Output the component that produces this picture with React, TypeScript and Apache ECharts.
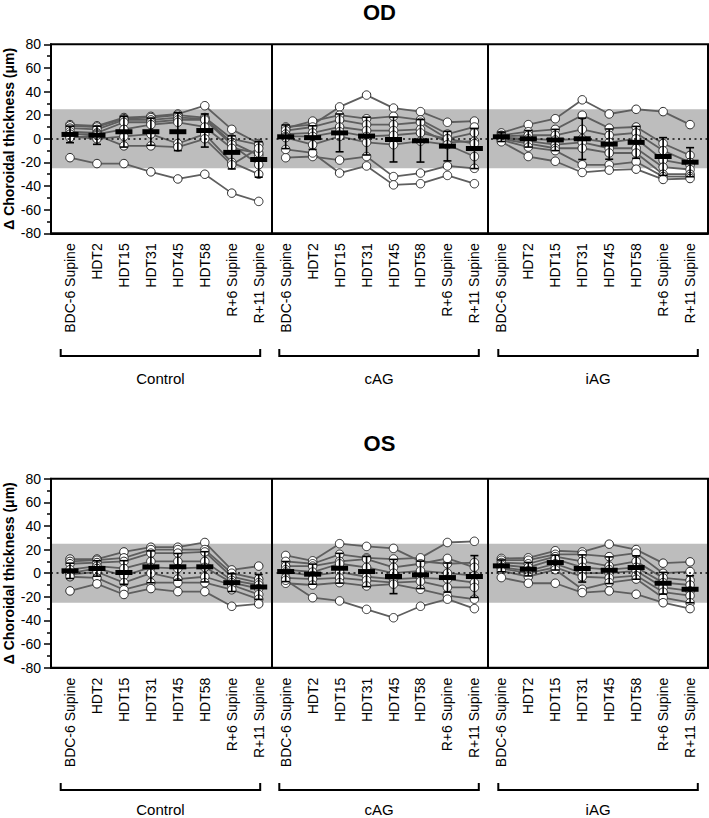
import React, { useEffect, useRef } from "react";
import * as echarts from "echarts";

// ---------- DATA ----------
const timePoints = ["BDC-6 Supine", "HDT2", "HDT15", "HDT31", "HDT45", "HDT58", "R+6 Supine", "R+11 Supine"];
const groupNames = ["Control", "cAG", "iAG"];
const panelTitles = ["OD", "OS"];
const yMin = -80;
const yMax = 80;
const yStep = 20;
const bandLimit = 25;
const yAxisTitle = "Δ Choroidal thickness (μm)";

// OD individual subjects (rows = subjects, columns = time points)
const odControl = [
  [-16, -21, -21, -28, -34, -30, -46, -53],
  [12, 11, 18, 19, 21, 28, 8, -4],
  [11, 10, 17, 18, 20, 18, 0, -5],
  [9, 8, 16, 16, 18, 17, -3, -14],
  [6, 5, 14, 14, 16, 16, -5, -22],
  [4, 4, 8, 12, 14, 10, -8, -12],
  [2, 0, 2, 4, -4, 4, -20, -30],
  [1, 3, -6, -6, -7, 0, -22, -8],
];
const odCAG = [
  [10, 12, 27, 37, 26, 23, 14, 15],
  [9, 15, 20, 17, 19, 16, 4, 10],
  [7, 10, 16, 12, 12, 14, 0, 5],
  [4, 5, 10, 7, 7, 8, -3, -2],
  [2, 2, 6, 2, 3, 5, 0, -4],
  [1, -5, 2, -3, -5, -2, -5, -15],
  [-16, -15, -18, -15, -32, -29, -23, -25],
  [-9, -12, -29, -23, -39, -38, -31, -38],
];
const odIAG = [
  [5, 12, 17, 33, 21, 25, 23, 12],
  [3, 6, 8, 20, 9, 10, -4, -14],
  [2, 3, 3, 8, 3, 5, -10, -20],
  [1, 0, -1, 0, -3, 0, -18, -22],
  [1, -2, -5, -3, -8, -8, -24, -26],
  [0, -4, -8, -8, -12, -12, -30, -30],
  [-1, -7, -10, -22, -22, -19.5, -32, -32],
  [-2.5, -15, -19, -28.5, -26.5, -25.7, -34.4, -33.6],
];

// OS individual subjects
const osControl = [
  [12, 12, 18, 22, 22, 26, 2.8, 6],
  [10, 11, 13, 20, 20, 20, 0, -5],
  [8, 9, 10, 17, 17, 18, -3, -8],
  [3, 6, 4, 10, 10, 10, -6, -10],
  [0, 4, -2, 5, 4, 5, -8, -13],
  [-1, 1, -8, 0, -5, -3, -10, -18],
  [-3, -4, -14, -8, -8, -8, -14, -22],
  [-15, -9, -18, -13, -15.6, -15.6, -28, -26],
];
const osCAG = [
  [15, 10.5, 25, 22.7, 21, 10, 8, 9],
  [10, 8, 16, 13, 12, 13, 26, 27],
  [6, 6, 10, 12, 5, 8, 12.5, 5],
  [3, 1, 8, 5, 0, 2, 0, -2],
  [1, -2, 1, -3, -5, -4, -5, -8],
  [-4, -5, -4, -6, -8, -7, -12, -12],
  [-8.5, -10, -8, -10.8, -9.3, -13.6, -19, -22],
  [-6, -20.7, -23.5, -30.6, -37.7, -28, -22, -30],
];
const osIAG = [
  [12.5, 13, 19, 18, 24.6, 20, 8.5, 9.6],
  [11, 11, 16, 16, 14, 17, 0, 1.4],
  [9, 8, 14, 10, 6, 10, -4, -6],
  [7, 5, 12, 5, 3, 5, -8, -10],
  [5, 2, 8, 0, 0, 2, -12, -15],
  [4, 0, 5, -3, -4, -2, -16, -19],
  [2, -3, 3, -13.6, -8, -5, -20.7, -25],
  [-3.7, -8.5, -8.5, -16.4, -15, -17.8, -25, -30],
];

// Group means and SDs
const odControlMean = [3.7, 3, 6, 6, 6, 7, -11.5, -17.5];
const odControlSD = [7, 7.7, 13, 11.5, 16, 14, 14, 15];
const odCAGMean = [1.7, 1, 5, 2.3, -0.6, -1.7, -6.2, -8.2];
const odCAGSD = [10, 10, 16, 16, 19, 18, 12.5, 17];
const odIAGMean = [1.7, 0, -1, 0, -4.5, -3, -15, -19.8];
const odIAGSD = [4, 7, 9, 17.5, 12.8, 13.5, 16, 12.3];

const osControlMean = [2, 4, 0.6, 5.4, 5.4, 5.4, -8, -11.6];
const osControlSD = [6.5, 6.5, 10, 13.5, 11.3, 12.8, 7.5, 10.5];
const osCAGMean = [1.4, -0.8, 4.2, 1.4, -2.8, -1.4, -3.7, -2.8];
const osCAGSD = [8.5, 8.5, 12.6, 12.8, 14.5, 11.6, 12.3, 17.7];
const osIAGMean = [6.2, 3.4, 9, 4, 2.5, 4.8, -8.5, -13.6];
const osIAGSD = [5, 5.7, 6.3, 11.5, 11.3, 9.9, 9.2, 11.4];

// ---------- LAYOUT ----------
const FONT = "'Liberation Sans', Arial, Helvetica, sans-serif";
const gridLeft = 51;
const gridWidth = 657;
const gridHeight = 189;
const panelTops = [44.3, 478.7];
const titleYs = [12, 443];
const groupLabelYs = [378, 809];
const bracketLineYs = [356, 790];
const xMin = -0.705;
const xMax = 23.665;
const nT = timePoints.length;

const panels = [
  {
    subjects: [odControl, odCAG, odIAG],
    means: [odControlMean, odCAGMean, odIAGMean],
    sds: [odControlSD, odCAGSD, odIAGSD],
  },
  {
    subjects: [osControl, osCAG, osIAG],
    means: [osControlMean, osCAGMean, osIAGMean],
    sds: [osControlSD, osCAGSD, osIAGSD],
  },
];

const renderSummary = (params: any, api: any) => {
  const x = api.value(0);
  const m = api.value(1);
  const sd = api.value(2);
  const c = api.coord([x, m]);
  const t = api.coord([x, m + sd]);
  const b = api.coord([x, m - sd]);
  const cap = 4;
  const barW = 17;
  const barH = 5;
  const st = { stroke: "#000", lineWidth: 1.6 };
  return {
    type: "group",
    children: [
      { type: "line", shape: { x1: c[0], y1: t[1], x2: c[0], y2: b[1] }, style: st },
      { type: "line", shape: { x1: c[0] - cap, y1: t[1], x2: c[0] + cap, y2: t[1] }, style: st },
      { type: "line", shape: { x1: c[0] - cap, y1: b[1], x2: c[0] + cap, y2: b[1] }, style: st },
      { type: "rect", shape: { x: c[0] - barW / 2, y: c[1] - barH / 2, width: barW, height: barH }, style: { fill: "#000" } },
    ],
  };
};

function buildOption() {
  const grid: any[] = [];
  const xAxis: any[] = [];
  const yAxis: any[] = [];
  const series: any[] = [];
  const graphic: any[] = [];
  const customVals = Array.from({ length: nT * groupNames.length }, (_, i) => i);

  panels.forEach((p, pi) => {
    const top = panelTops[pi];
    grid.push({
      left: gridLeft,
      top,
      width: gridWidth,
      height: gridHeight,
      show: true,
      borderColor: "#000",
      borderWidth: 2,
      backgroundColor: "transparent",
      z: 8,
    });
    xAxis.push({
      type: "value",
      gridIndex: pi,
      min: xMin,
      max: xMax,
      z: 8,
      splitLine: { show: false },
      axisLine: { show: true, onZero: false, lineStyle: { color: "#000", width: 2 } },
      axisTick: { show: false, customValues: customVals },
      axisLabel: {
        customValues: customVals,
        rotate: 90,
        margin: 10,
        fontSize: 14,
        color: "#000",
        fontFamily: FONT,
        formatter: (v: number) => timePoints[Math.round(v) % nT],
      },
    });
    yAxis.push({
      type: "value",
      gridIndex: pi,
      min: yMin,
      max: yMax,
      interval: yStep,
      z: 8,
      splitLine: { show: false },
      axisLine: { show: true, onZero: false, lineStyle: { color: "#000", width: 2 } },
      axisTick: { show: true, length: 7, lineStyle: { color: "#000", width: 1.5 } },
      minorTick: { show: true, splitNumber: 2, length: 4, lineStyle: { color: "#000", width: 1.5 } },
      axisLabel: { fontSize: 14, color: "#000", fontFamily: FONT, margin: 10 },
    });

    // band
    series.push({
      type: "line",
      xAxisIndex: pi,
      yAxisIndex: pi,
      data: [],
      z: 1,
      silent: true,
      markArea: {
        silent: true,
        itemStyle: { color: "#bdbdbd" },
        data: [[{ yAxis: -bandLimit }, { yAxis: bandLimit }]],
      },
    });
    // zero dotted line
    series.push({
      type: "line",
      xAxisIndex: pi,
      yAxisIndex: pi,
      data: [],
      z: 2,
      silent: true,
      markLine: {
        silent: true,
        symbol: "none",
        label: { show: false },
        lineStyle: { color: "#111", type: [2, 3.5], width: 1.6 },
        data: [{ yAxis: 0 }],
      },
    });
    // subjects
    p.subjects.forEach((subs, g) => {
      subs.forEach((s) => {
        series.push({
          type: "line",
          xAxisIndex: pi,
          yAxisIndex: pi,
          z: 3,
          silent: true,
          data: s.map((v, t) => [g * nT + t, v]),
          symbol: "circle",
          symbolSize: 8.5,
          showAllSymbol: true,
          lineStyle: { color: "#5f5f5f", width: 1.8 },
          itemStyle: { color: "#fff", borderColor: "#2a2a2a", borderWidth: 1 },
        });
      });
    });
    // mean + SD
    const summary: number[][] = [];
    p.means.forEach((m, g) => m.forEach((v, t) => summary.push([g * nT + t, v, p.sds[g][t]])));
    series.push({
      type: "custom",
      xAxisIndex: pi,
      yAxisIndex: pi,
      z: 5,
      silent: true,
      data: summary,
      encode: { x: 0, y: 1 },
      renderItem: renderSummary,
    });
    // group dividers
    series.push({
      type: "line",
      xAxisIndex: pi,
      yAxisIndex: pi,
      data: [],
      z: 6,
      silent: true,
      markLine: {
        silent: true,
        symbol: "none",
        label: { show: false },
        lineStyle: { color: "#000", type: "solid", width: 2 },
        data: [{ xAxis: nT - 0.5 }, { xAxis: 2 * nT - 0.5 }],
      },
    });

    // titles & annotations
    graphic.push({
      type: "text",
      x: gridLeft + gridWidth / 2,
      y: titleYs[pi],
      style: {
        text: panelTitles[pi],
        font: `bold 22px ${FONT}`,
        fill: "#000",
        textAlign: "center",
        textVerticalAlign: "middle",
        align: "center",
        verticalAlign: "middle",
      },
    });
    graphic.push({
      type: "text",
      x: 9,
      y: top + gridHeight / 2,
      rotation: Math.PI / 2,
      style: {
        text: yAxisTitle,
        font: `bold 14px ${FONT}`,
        fill: "#000",
        textAlign: "center",
        textVerticalAlign: "middle",
        align: "center",
        verticalAlign: "middle",
      },
    });
    const bracketStarts = [60.7, 279.3, 498.3];
    const bracketW = 199.5;
    const lineY = bracketLineYs[pi];
    const tickY = lineY - 7;
    groupNames.forEach((name, g) => {
      const x0 = bracketStarts[g];
      const x1 = x0 + bracketW;
      graphic.push({
        type: "polyline",
        shape: { points: [[x0, tickY], [x0, lineY], [x1, lineY], [x1, tickY]] },
        style: { stroke: "#000", lineWidth: 2, fill: null },
      });
      graphic.push({
        type: "text",
        x: (x0 + x1) / 2,
        y: groupLabelYs[pi],
        style: {
          text: name,
          font: `15px ${FONT}`,
          fill: "#000",
          textAlign: "center",
          textVerticalAlign: "middle",
          align: "center",
          verticalAlign: "middle",
        },
      });
    });
  });

  return {
    animation: false,
    backgroundColor: "#fff",
    textStyle: { fontFamily: FONT },
    grid,
    xAxis,
    yAxis,
    series,
    graphic,
  };
}

export default function App() {
  const ref = useRef<HTMLDivElement>(null);
  useEffect(() => {
    if (!ref.current) return;
    const chart = echarts.init(ref.current, null, { renderer: "svg" });
    chart.setOption(buildOption() as any);
    return () => chart.dispose();
  }, []);
  return (
    <div
      ref={ref}
      style={{ position: "fixed", left: 0, top: 0, width: 709, height: 818, background: "#fff" }}
    />
  );
}
